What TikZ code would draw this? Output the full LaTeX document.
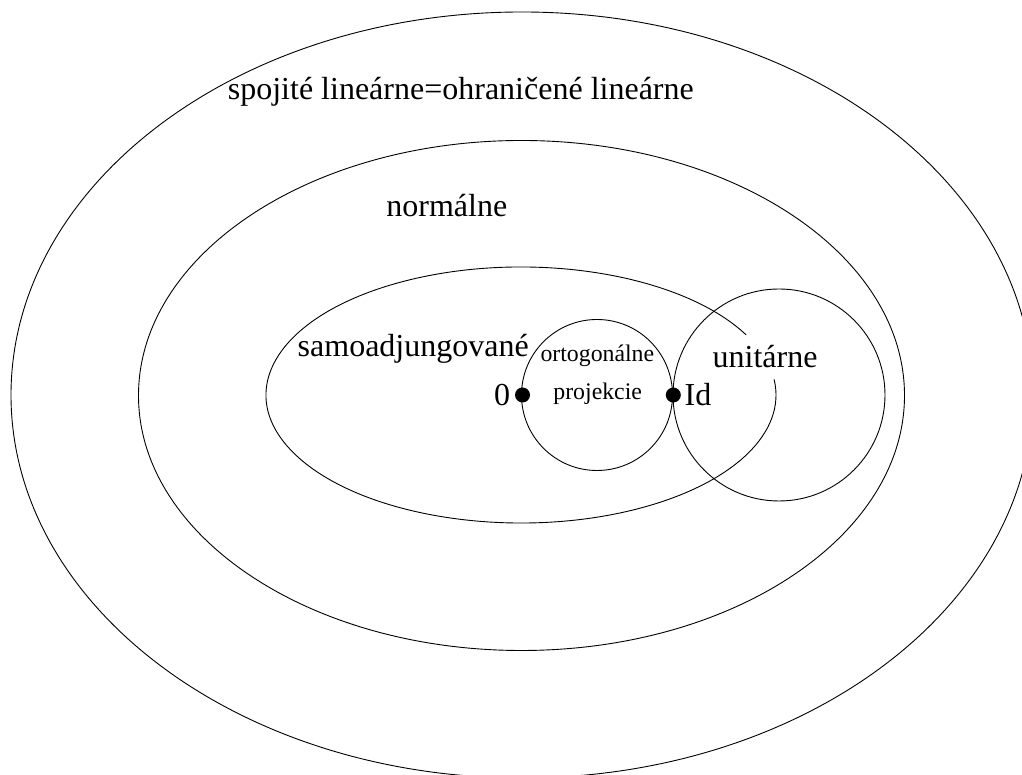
\documentclass[tikz,border=0pt]{standalone}
\usepackage{fontspec}
\setmainfont{Liberation Serif}
\usetikzlibrary{positioning}

\begin{document}
\begin{tikzpicture}[
    x=1pt, y=1pt,
    set/.style={line width=0.9pt, black},
    lbl/.style={inner sep=0pt, anchor=base west, font=\fontsize{32}{36}\selectfont},
    smalllbl/.style={inner sep=0pt, anchor=base west, font=\fontsize{23.8}{28}\selectfont},
    dot/.style={circle, fill=black, inner sep=0pt, minimum size=15pt}
]
\clip (0,0) rectangle (1022,775);

% Sets
\draw[set] (522,380) ellipse (511 and 383);
\draw[set] (521.5,379.5) ellipse (383 and 255);
\draw[set] (521,380) ++(28:255 and 128) arc (28:367:255 and 128);
\draw[set] (597,380) circle (75.5);
\draw[set] (779,380) circle (106);

% Labels
\node[lbl] (bounded) at (227.7,675.7) {spojité lineárne=ohraničené lineárne};
\node[lbl] (normal) at (386.2,558.3) {normálne};
\node[lbl] (selfadj) at (297.5,418.3) {samoadjungované};
\node[smalllbl] (orth1) at (540.3,413.3) {ortogonálne};
\node[smalllbl] (orth2) at (553.2,375) {projekcie};
\node[lbl] (unitary) at (712.4,407.7) {unitárne};

% Points
\node[dot] (zero) at (522.5,380) {};
\node[dot] (id) at (673.3,380) {};
\node[lbl, anchor=center, left=4.5pt of zero] (zerolbl) {0};
\node[lbl, anchor=center, right=3.5pt of id] (idlbl) {Id};

\end{tikzpicture}
\end{document}
